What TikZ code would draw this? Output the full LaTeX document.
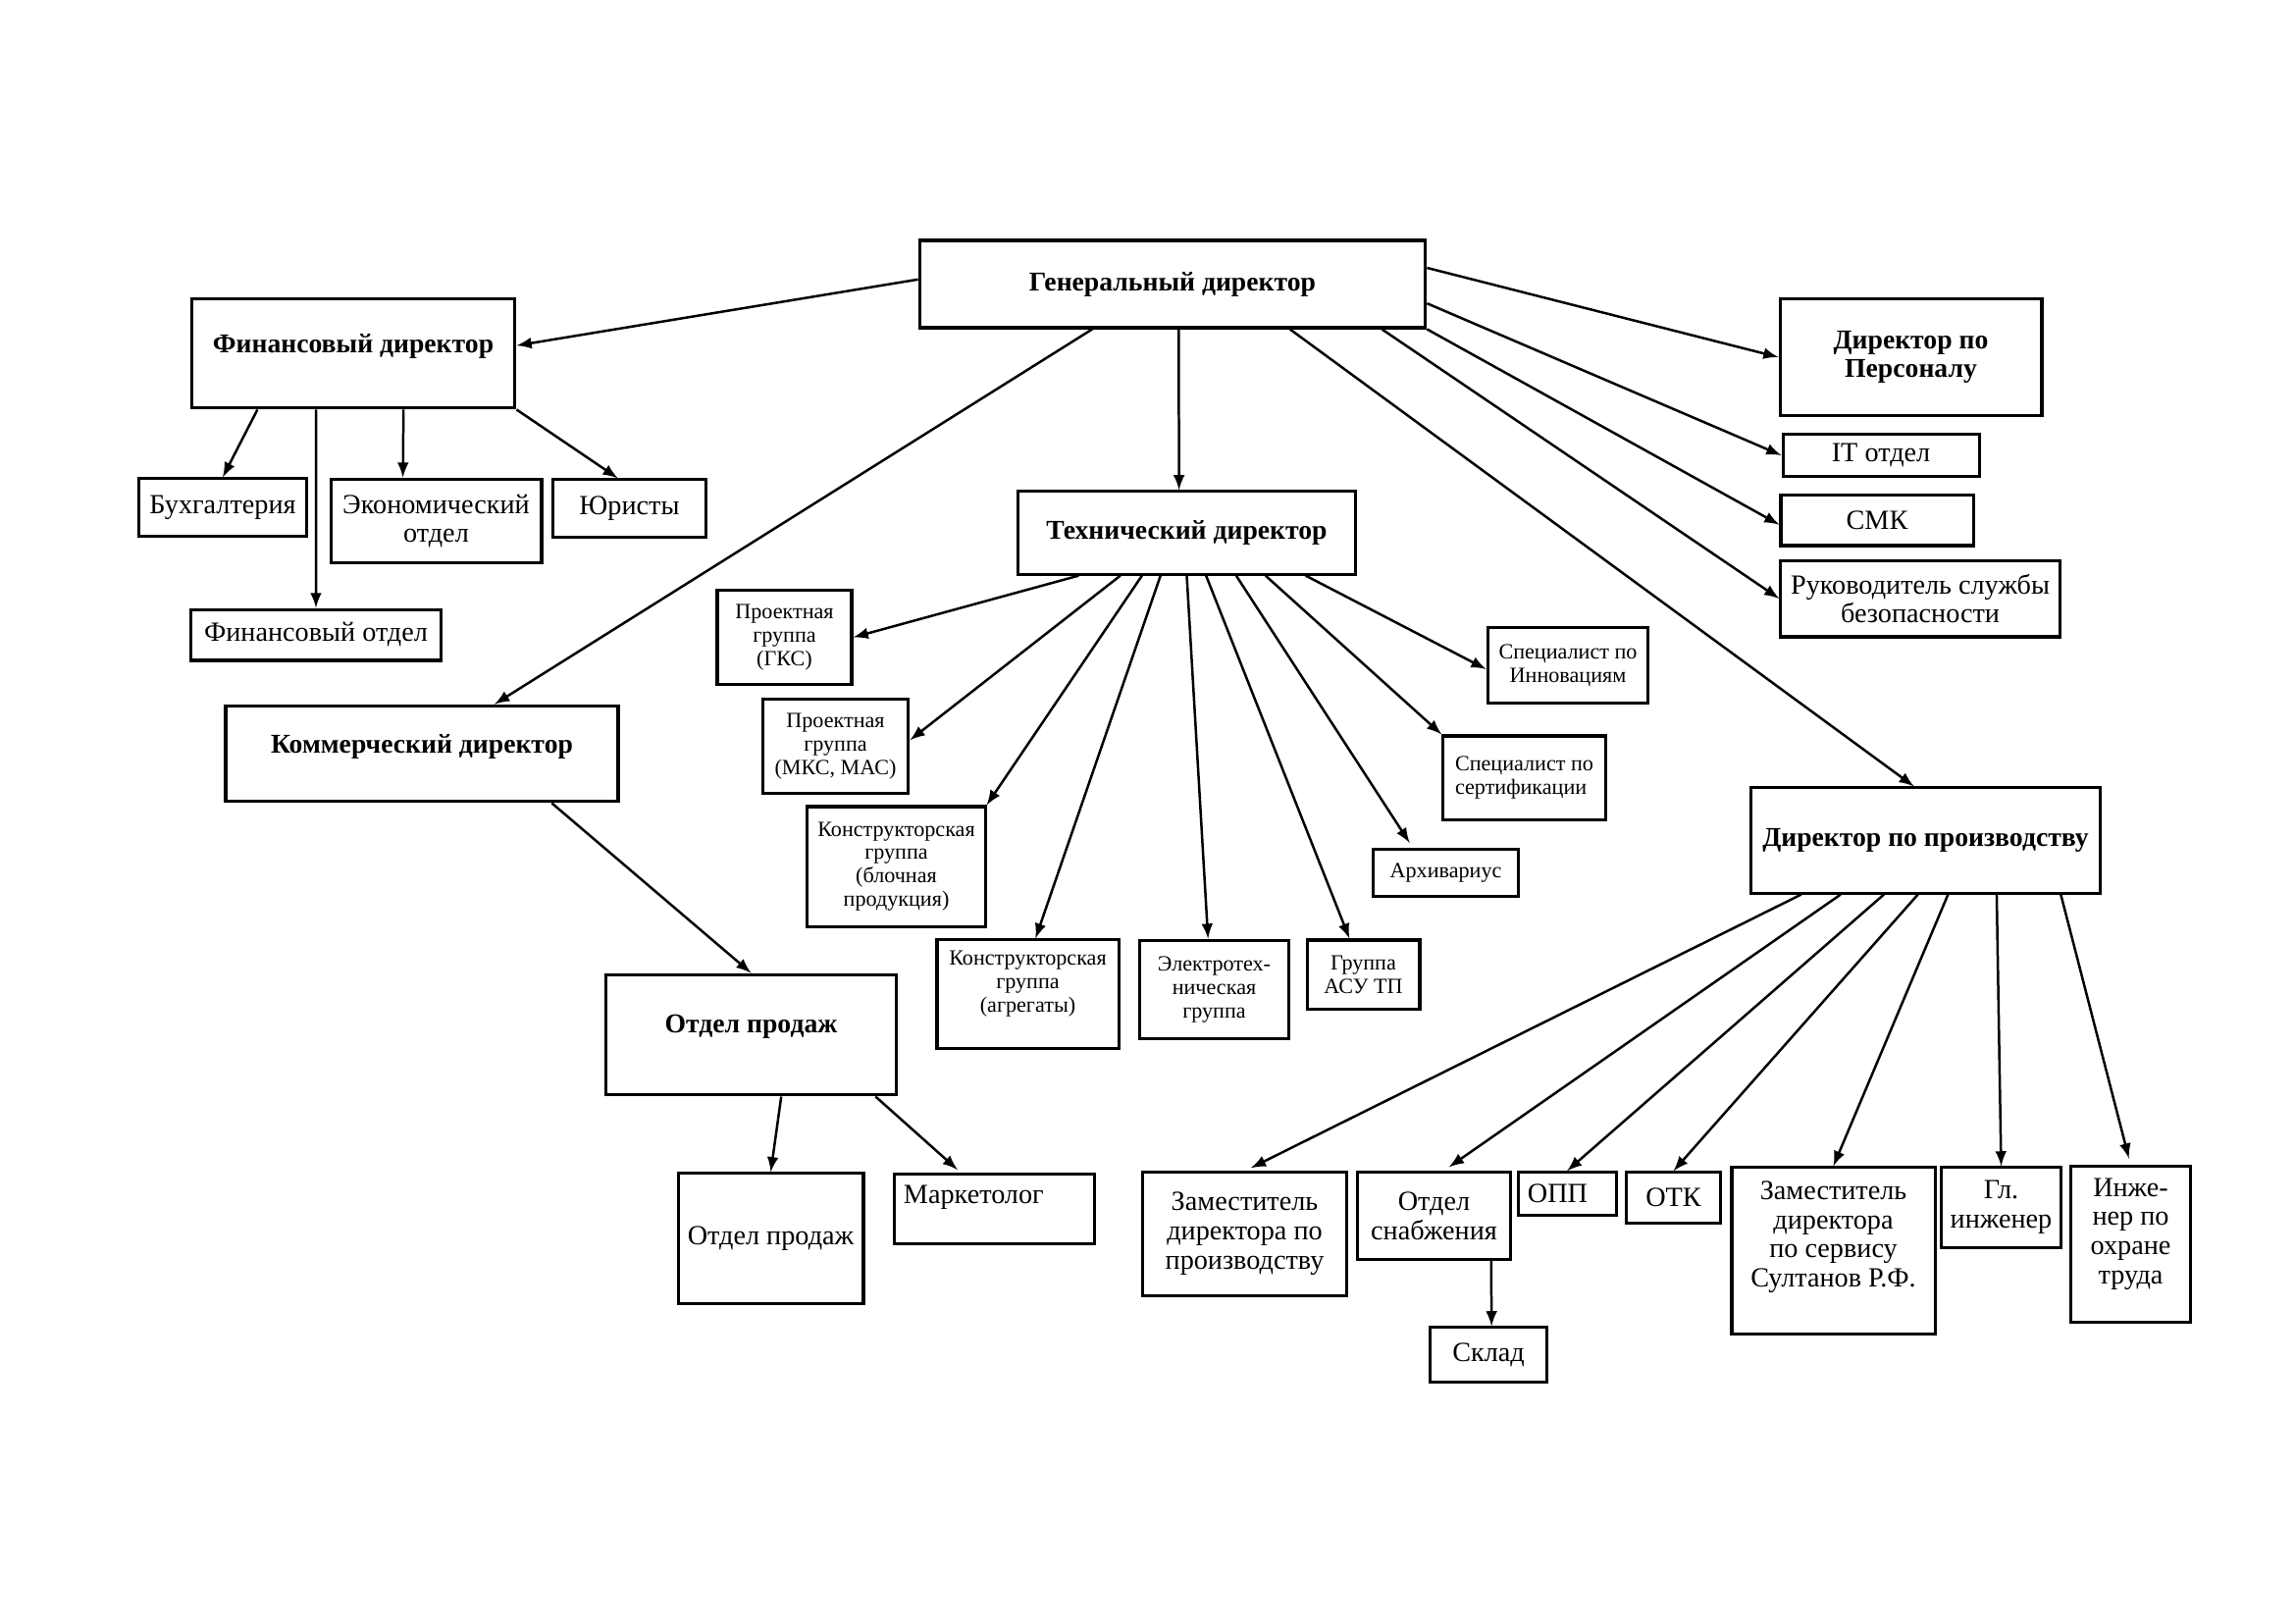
\documentclass[tikz,border=0pt]{standalone}
\usepackage{fontspec}
\setmainfont{Liberation Serif}
\usetikzlibrary{arrows}
\tikzset{box/.style=
   {rectangle,
    draw,
    line width=1.1pt,
    align=center,
    font=\fontsize{10.2}{10.8}\selectfont}}
\tikzset{chief/.style=
   {box,
    inner sep=1mm,
    font=\bfseries\fontsize{10}{10.4}\selectfont}}
\tikzset{smallbox/.style=
   {box,
    inner sep=1pt,
    font=\fontsize{8}{8.6}\selectfont}}
\tikzset{arrow/.style = {draw, line width=0.9pt, -latex}}

\begin{document}
\begin{tikzpicture}[x=0.127mm, y=-0.127mm]

    \useasboundingbox (0,0) rectangle (2339,1654);

    % Place nodes
    \node [chief, minimum width=65.5mm, minimum height=11.3mm] (gen) at (1195,289.5) {Генеральный директор};

    \node [chief, minimum width=41.9mm, minimum height=14.2mm, text depth=2.6mm] (fin) at (360,360) {Финансовый директор};
    \node [box, minimum width=21.6mm, minimum height=7.4mm] (buh) at (227,517) {Бухгалтерия};
    \node [box, minimum width=27.3mm, minimum height=10.9mm] (econ) at (444.5,531) {Экономический\\отдел};
    \node [box, minimum width=19.7mm, minimum height=7.4mm] (law) at (641.5,518) {Юристы};
    \node [box, minimum width=32.3mm, minimum height=6.6mm] (finotd) at (322,647) {Финансовый отдел};

    \node [chief, minimum width=50.8mm, minimum height=12.4mm, text depth=2.6mm] (com) at (430,768) {Коммерческий директор};
    \node [chief, minimum width=37.5mm, minimum height=15.6mm, text depth=2.9mm] (sales) at (765.5,1054.5) {Отдел продаж};
    \node [box, minimum width=24mm, minimum height=16.8mm] (salesdep) at (785.5,1262) {Отдел продаж};
    \node [box, minimum width=26mm, minimum height=9.1mm, text width=23.5mm, align=left, text depth=3.8mm] (mark) at (1013.5,1232) {Маркетолог};

    \node [chief, minimum width=43.6mm, minimum height=10.7mm] (tech) at (1209.5,543) {Технический директор};
    \node [smallbox, minimum width=17.4mm, minimum height=12.3mm] (pgks) at (799.5,649.5) {Проектная\\группа\\(ГКС)};
    \node [smallbox, minimum width=18.9mm, minimum height=12.1mm] (pmks) at (851.5,760.5) {Проектная\\группа\\(МКС, МАС)};
    \node [smallbox, minimum width=23mm, minimum height=15.5mm] (kblock) at (913.5,883) {Конструкторская\\группа\\(блочная\\продукция)};
    \node [smallbox, minimum width=23.5mm, minimum height=14mm, text depth=3.3mm] (kagr) at (1047.5,1013) {Конструкторская\\группа\\(агрегаты)};
    \node [smallbox, minimum width=19.2mm, minimum height=12.8mm] (elec) at (1237.5,1008.5) {Электротех-\\ническая\\группа};
    \node [smallbox, minimum width=14.6mm, minimum height=8.9mm] (asu) at (1389.5,993) {Группа\\АСУ ТП};
    \node [smallbox, minimum width=18.9mm, minimum height=6.2mm] (arch) at (1473.5,889.5) {Архивариус};
    \node [smallbox, minimum width=21mm, minimum height=10.8mm, align=left] (cert) at (1553.5,792.5) {Специалист по\\сертификации};
    \node [smallbox, minimum width=20.8mm, minimum height=9.7mm] (innov) at (1598,678) {Специалист по\\Инновациям};

    \node [chief, minimum width=33.9mm, minimum height=15.2mm] (pers) at (1947.5,364) {Директор по\\Персоналу};
    \node [box, minimum width=25.4mm, minimum height=5.3mm] (it) at (1917,464) {IT отдел};
    \node [box, minimum width=24.9mm, minimum height=6.6mm] (smk) at (1913,530) {СМК};
    \node [box, minimum width=36.1mm, minimum height=9.9mm] (sec) at (1957,610) {Руководитель службы\\безопасности};

    \node [chief, minimum width=45.3mm, minimum height=13.6mm] (prod) at (1962.5,856.5) {Директор по производству};
    \node [box, minimum width=26.3mm, minimum height=15.9mm] (zamprod) at (1268.5,1257.5) {Заместитель\\директора по\\производству};
    \node [box, minimum width=19.7mm, minimum height=11.2mm] (snab) at (1461.5,1239) {Отдел\\снабжения};
    \node [box, minimum width=12.7mm, minimum height=5.5mm, text width=10.2mm, align=left] (opp) at (1597,1216.5) {ОПП};
    \node [box, minimum width=12.3mm, minimum height=6.5mm] (otk) at (1705.5,1220.5) {ОТК};
    \node [box, minimum width=26.3mm, minimum height=21.5mm, text depth=4.3mm] (zamserv) at (1868.5,1274.5) {Заместитель\\директора\\по сервису\\Султанов Р.Ф.};
    \node [box, minimum width=15.4mm, minimum height=10.3mm] (glinzh) at (2039.5,1230.5) {Гл.\\инженер};
    \node [box, minimum width=15.4mm, minimum height=20.1mm, text depth=3.4mm] (ohr) at (2171.5,1268) {Инже-\\нер по\\охране\\труда};
    \node [box, minimum width=15.2mm, minimum height=7mm] (sklad) at (1517,1380.5) {Склад};

    % Draw edges
    \path [arrow] ([yshift=0.6mm]gen.west) -- ([yshift=1mm]fin.east);
    \path [arrow] ([xshift=-10.4mm]gen.south) -- ([xshift=9.4mm]com.north);
    \path [arrow] ([xshift=0.8mm]gen.south) -- ([xshift=-1mm]tech.north);
    \path [arrow] ([xshift=15.2mm]gen.south) -- ([xshift=-1.5mm]prod.north);
    \path [arrow] ([yshift=2.1mm]gen.east) -- (pers.west);
    \path [arrow] ([yshift=-2.5mm]gen.east) -- (it.west);
    \path [arrow] (gen.south east) -- ([yshift=-0.6mm]smk.west);
    \path [arrow] ([xshift=27.1mm]gen.south) -- (sec.west);

    \path [arrow] ([xshift=-12.4mm]fin.south) -- (buh.north);
    \path [arrow] ([xshift=-4.8mm]fin.south) -- (finotd.north);
    \path [arrow] ([xshift=6.5mm]fin.south) -- ([xshift=-4.3mm]econ.north);
    \path [arrow] (fin.south east) -- ([xshift=-1.5mm]law.north);

    \path [arrow] ([xshift=16.8mm]com.south) -- (sales.north);
    \path [arrow] ([xshift=3.9mm]sales.south) -- (salesdep.north);
    \path [arrow, shorten >=0.5mm] ([xshift=16.1mm]sales.south) -- ([xshift=-4.4mm]mark.north);

    \path [arrow] ([xshift=-14mm]tech.south) -- (pgks.east);
    \path [arrow] ([xshift=-8.6mm]tech.south) -- ([yshift=0.8mm]pmks.east);
    \path [arrow] ([xshift=-5.8mm]tech.south) -- (kblock.north east);
    \path [arrow] ([xshift=-3.4mm]tech.south) -- ([xshift=1mm]kagr.north);
    \path [arrow] (tech.south) -- ([xshift=-0.8mm]elec.north);
    \path [arrow] ([xshift=2.5mm]tech.south) -- ([xshift=-1.8mm]asu.north);
    \path [arrow, shorten >=0.7mm] ([xshift=6.4mm]tech.south) -- ([xshift=-4.3mm]arch.north);
    \path [arrow] ([xshift=10.2mm]tech.south) -- (cert.north west);
    \path [arrow] ([xshift=15.4mm]tech.south) -- ([yshift=-0.5mm]innov.west);

    \path [arrow, shorten >=0.9mm] ([xshift=-16.1mm]prod.south) -- (zamprod.north);
    \path [arrow, shorten >=0.9mm] ([xshift=-11mm]prod.south) -- ([xshift=1.2mm]snab.north);
    \path [arrow] ([xshift=-5.4mm]prod.south) -- (opp.north);
    \path [arrow] ([xshift=-1mm]prod.south) -- (otk.north);
    \path [arrow] ([xshift=2.9mm]prod.south) -- (zamserv.north);
    \path [arrow] ([xshift=9.2mm]prod.south) -- (glinzh.north);
    \path [arrow, shorten >=0.9mm] ([xshift=17.5mm]prod.south) -- (ohr.north);
    \path [arrow] ([xshift=7.4mm]snab.south) -- ([xshift=0.4mm]sklad.north);

\end{tikzpicture}
\end{document}
